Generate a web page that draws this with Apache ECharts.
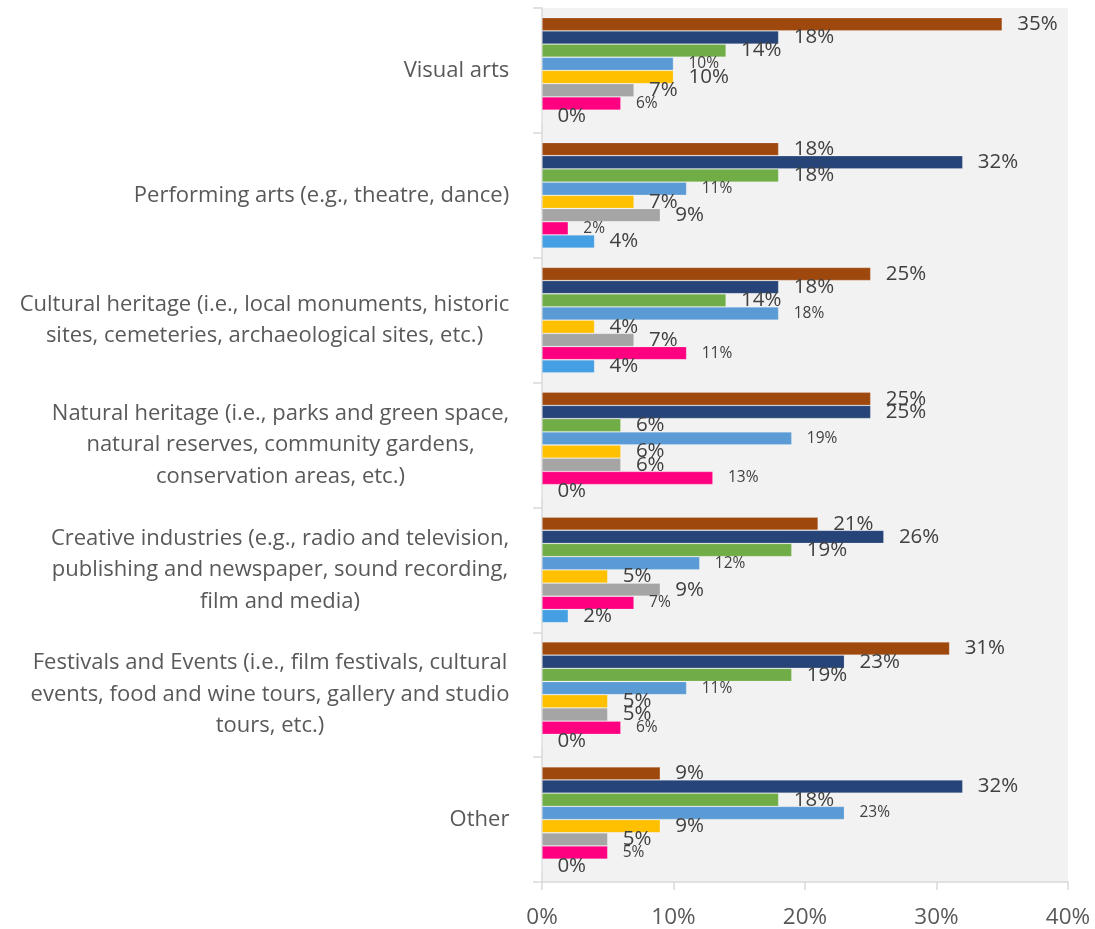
<!DOCTYPE html>
<html>
<head>
<meta charset="utf-8">
<script src="https://cdn.jsdelivr.net/npm/echarts@6/dist/echarts.min.js"></script>
<style>
  html, body { margin: 0; padding: 0; background: #ffffff; }
  #chart { width: 1095px; height: 929px; }
</style>
</head>
<body>
<div id="chart"></div>
<script>
// Category labels (line breaks as wrapped on the axis)
const categories = [
  'Visual arts',
  'Performing arts (e.g., theatre, dance)',
  'Cultural heritage (i.e., local monuments, historic\nsites, cemeteries, archaeological sites, etc.)',
  'Natural heritage (i.e., parks and green space,\nnatural reserves, community gardens,\nconservation areas, etc.)',
  'Creative industries (e.g., radio and television,\npublishing and newspaper, sound recording,\nfilm and media)',
  'Festivals and Events (i.e., film festivals, cultural\nevents, food and wine tours, gallery and studio\ntours, etc.)',
  'Other'
];

// Share of responses (%) per group, in category order
const group1 = [35, 18, 25, 25, 21, 31, 9];
const group2 = [18, 32, 18, 25, 26, 23, 32];
const group3 = [14, 18, 14, 6, 19, 19, 18];
const group4 = [10, 11, 18, 19, 12, 11, 23];
const group5 = [10, 7, 4, 6, 5, 5, 9];
const group6 = [7, 9, 7, 6, 9, 5, 5];
const group7 = [6, 2, 11, 13, 7, 6, 5];
const group8 = [0, 4, 4, 0, 2, 0, 0];

// Value axis ticks (%)
const xTicks = [0, 10, 20, 30, 40];

const groups = [group1, group2, group3, group4, group5, group6, group7, group8];
const colors = ['#9e480e', '#264478', '#70ad47', '#5b9bd5', '#ffc000', '#a5a5a5', '#ff0080', '#449fe3'];
const labelSizes = [20.5, 20.5, 20.5, 15.5, 20.5, 20.5, 15.5, 20.5];

const FONT = '"Open Sans", "Noto Sans", sans-serif';
const CAT_SIZE = 22;

// Measure each wrapped label so its lines can be centred within the block
const ctx = document.createElement('canvas').getContext('2d');
ctx.font = CAT_SIZE + 'px "Open Sans"';
const rich = {};
categories.forEach((c, i) => {
  const w = Math.max(...c.split('\n').map(l => ctx.measureText(l).width));
  rich['c' + i] = {
    width: Math.ceil(w) + 1,
    align: 'center',
    fontSize: CAT_SIZE,
    lineHeight: 31.5,
    color: '#595959',
    fontFamily: FONT
  };
});

const chart = echarts.init(document.getElementById('chart'), null, { renderer: 'canvas' });

chart.setOption({
  animation: false,
  textStyle: { fontFamily: FONT },
  grid: {
    left: 542, right: 27, top: 8, bottom: 47,
    show: true, backgroundColor: '#f2f2f2', borderWidth: 0,
    containLabel: false
  },
  xAxis: {
    type: 'value',
    min: xTicks[0],
    max: xTicks[xTicks.length - 1],
    interval: xTicks[1] - xTicks[0],
    axisLine: { show: true, lineStyle: { color: '#d9d9d9', width: 1.5 } },
    axisTick: { show: true, length: 8, lineStyle: { color: '#d9d9d9', width: 1.5 } },
    splitLine: { show: false },
    axisLabel: {
      formatter: '{value}%',
      fontSize: 22.5,
      color: '#595959',
      margin: 24,
      fontFamily: FONT
    }
  },
  yAxis: {
    type: 'category',
    inverse: true,
    data: categories,
    axisLine: { show: true, lineStyle: { color: '#d9d9d9', width: 1.5 } },
    axisTick: { show: true, length: 9, alignWithLabel: false, lineStyle: { color: '#d9d9d9', width: 1.5 } },
    axisLabel: {
      margin: 32,
      formatter: (value, idx) => value.split('\n').map(l => '{c' + idx + '|' + l + '}').join('\n'),
      rich: rich
    }
  },
  series: groups.map((d, i) => ({
    name: 'Group ' + (i + 1),
    type: 'bar',
    data: d,
    barWidth: 13.2,
    barGap: '0%',
    itemStyle: { color: colors[i], borderColor: 'rgba(255,255,255,0.25)', borderWidth: 0.8 },
    label: {
      show: true,
      position: 'right',
      distance: 15,
      formatter: '{c}%',
      fontSize: labelSizes[i],
      color: '#404040',
      fontFamily: FONT
    }
  }))
});
</script>
</body>
</html>
